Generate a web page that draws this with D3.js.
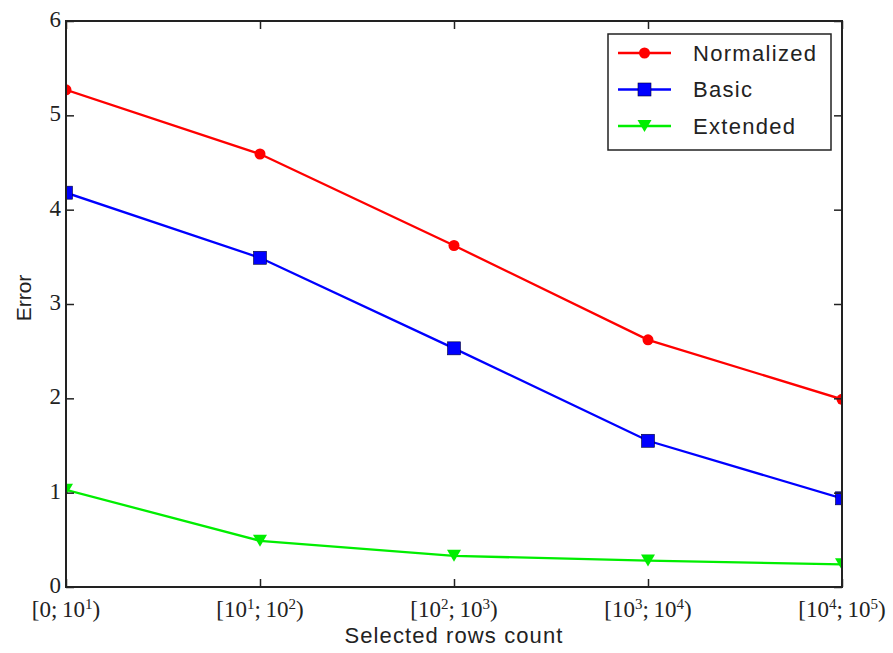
<!DOCTYPE html>
<html>
<head>
<meta charset="utf-8">
<script src="https://cdn.jsdelivr.net/npm/d3@7"></script>
<style>
  body { margin: 0; background: #fff; }
  svg { display: block; }
</style>
</head>
<body>
<div id="chart"></div>
<script>
const categories = [
  { base: "0", sup: null, base2: "10", sup2: "1" },
  { base: "10", sup: "1", base2: "10", sup2: "2" },
  { base: "10", sup: "2", base2: "10", sup2: "3" },
  { base: "10", sup: "3", base2: "10", sup2: "4" },
  { base: "10", sup: "4", base2: "10", sup2: "5" }
];
const normalized = [5.27, 4.59, 3.62, 2.62, 1.99];
const basic = [4.18, 3.49, 2.53, 1.55, 0.94];
const extended = [1.03, 0.49, 0.33, 0.28, 0.24];
const yTicks = [0, 1, 2, 3, 4, 5, 6];

const width = 893, height = 653;
const margin = { top: 21, right: 51, bottom: 66, left: 66 };

const svg = d3.select("#chart").append("svg")
  .attr("width", width)
  .attr("height", height);

const x = d3.scaleLinear()
  .domain([0, categories.length - 1])
  .range([margin.left, width - margin.right]);

const y = d3.scaleLinear()
  .domain([0, 6])
  .range([height - margin.bottom, margin.top]);

svg.append("defs").append("clipPath").attr("id", "clip")
  .append("rect")
  .attr("x", margin.left).attr("y", margin.top)
  .attr("width", width - margin.left - margin.right)
  .attr("height", height - margin.top - margin.bottom);

const series = [
  { name: "Normalized", values: normalized, color: "#ff0000", marker: "circle" },
  { name: "Basic", values: basic, color: "#0000ff", marker: "square" },
  { name: "Extended", values: extended, color: "#00ee00", marker: "triangle" }
];

function marker(sel, type, color) {
  if (type === "circle") {
    sel.append("circle").attr("r", 5.5).attr("fill", color);
  } else if (type === "square") {
    sel.append("rect").attr("x", -6.5).attr("y", -6.5).attr("width", 13).attr("height", 13)
      .attr("fill", color).attr("stroke", "#000033").attr("stroke-width", 0.6);
  } else {
    sel.append("path").attr("d", "M-7,-6L7,-6L0,6Z").attr("fill", color);
  }
}

const plot = svg.append("g").attr("clip-path", "url(#clip)");
const line = d3.line().x((d, i) => x(i)).y(d => y(d));

series.forEach(s => {
  plot.append("path")
    .datum(s.values)
    .attr("fill", "none")
    .attr("stroke", s.color)
    .attr("stroke-width", 2.3)
    .attr("d", line);
  plot.selectAll(null)
    .data(s.values)
    .join("g")
    .attr("transform", (d, i) => `translate(${x(i)},${y(d)})`)
    .each(function () { marker(d3.select(this), s.marker, s.color); });
});

// axes with inward ticks on all four sides
const tickLen = 8;
const xTicks = d3.range(categories.length);
const axisColor = "#222";

const axB = svg.append("g").attr("transform", `translate(0,${y(0)})`)
  .call(d3.axisBottom(x).tickValues(xTicks).tickSize(-tickLen).tickFormat(""));
const axT = svg.append("g").attr("transform", `translate(0,${y(6)})`)
  .call(d3.axisTop(x).tickValues(xTicks).tickSize(-tickLen).tickFormat(""));
const axL = svg.append("g").attr("transform", `translate(${x(0)},0)`)
  .call(d3.axisLeft(y).tickValues(yTicks).tickSize(-tickLen).tickFormat(""));
const axR = svg.append("g").attr("transform", `translate(${x(4)},0)`)
  .call(d3.axisRight(y).tickValues(yTicks).tickSize(-tickLen).tickFormat(""));
[axB, axT, axL, axR].forEach(a => {
  a.select(".domain").remove();
  a.selectAll("line").attr("stroke", axisColor).attr("stroke-width", 1.5);
});

svg.append("rect")
  .attr("x", x(0)).attr("y", y(6))
  .attr("width", x(4) - x(0)).attr("height", y(0) - y(6))
  .attr("fill", "none").attr("stroke", axisColor).attr("stroke-width", 2);

// y tick labels
svg.append("g").selectAll("text")
  .data(yTicks)
  .join("text")
  .attr("x", x(0) - 5)
  .attr("y", d => y(d) - 2)
  .attr("dy", "0.35em")
  .attr("text-anchor", "end")
  .attr("font-family", "Liberation Serif")
  .attr("font-size", 23)
  .attr("fill", "#222")
  .text(d => d);

// x tick labels with superscripts
const xl = svg.append("g").selectAll("text")
  .data(categories)
  .join("text")
  .attr("x", (d, i) => x(i))
  .attr("y", y(0) + 30)
  .attr("text-anchor", "middle")
  .attr("font-family", "Liberation Serif")
  .attr("font-size", 23)
  .attr("fill", "#222");

xl.each(function (d) {
  const t = d3.select(this);
  t.append("tspan").text("[" + d.base);
  if (d.sup) t.append("tspan").attr("dy", -8).attr("font-size", 15).text(d.sup);
  t.append("tspan").attr("dy", d.sup ? 8 : 0).text(";\u2009" + d.base2);
  t.append("tspan").attr("dy", -8).attr("font-size", 15).text(d.sup2);
  t.append("tspan").attr("dy", 8).text(")");
});

// axis titles
svg.append("text")
  .attr("x", (x(0) + x(4)) / 2)
  .attr("y", 643)
  .attr("text-anchor", "middle")
  .attr("font-family", "Liberation Sans")
  .attr("font-size", 22)
  .attr("letter-spacing", 1.1)
  .attr("fill", "#222")
  .text("Selected rows count");

svg.append("text")
  .attr("transform", `translate(31,${(y(0) + y(6)) / 2 - 6}) rotate(-90)`)
  .attr("text-anchor", "middle")
  .attr("font-family", "Liberation Sans")
  .attr("font-size", 21)
  .attr("fill", "#222")
  .text("Error");

// legend
const legend = svg.append("g");
legend.append("rect")
  .attr("x", 608).attr("y", 34).attr("width", 223).attr("height", 116)
  .attr("fill", "#fff").attr("stroke", "#222").attr("stroke-width", 1.5);

series.forEach((s, i) => {
  const ly = 53 + i * 36.5;
  const g = legend.append("g");
  g.append("line")
    .attr("x1", 618).attr("x2", 671).attr("y1", ly).attr("y2", ly)
    .attr("stroke", s.color).attr("stroke-width", 2.3);
  const m = g.append("g").attr("transform", `translate(644.5,${ly})`);
  marker(m, s.marker, s.color);
  g.append("text")
    .attr("x", 693).attr("y", ly).attr("dy", "0.35em")
    .attr("font-family", "Liberation Sans")
    .attr("font-size", 22)
    .attr("letter-spacing", 1.3)
    .attr("fill", "#222")
    .text(s.name);
});
</script>
</body>
</html>
